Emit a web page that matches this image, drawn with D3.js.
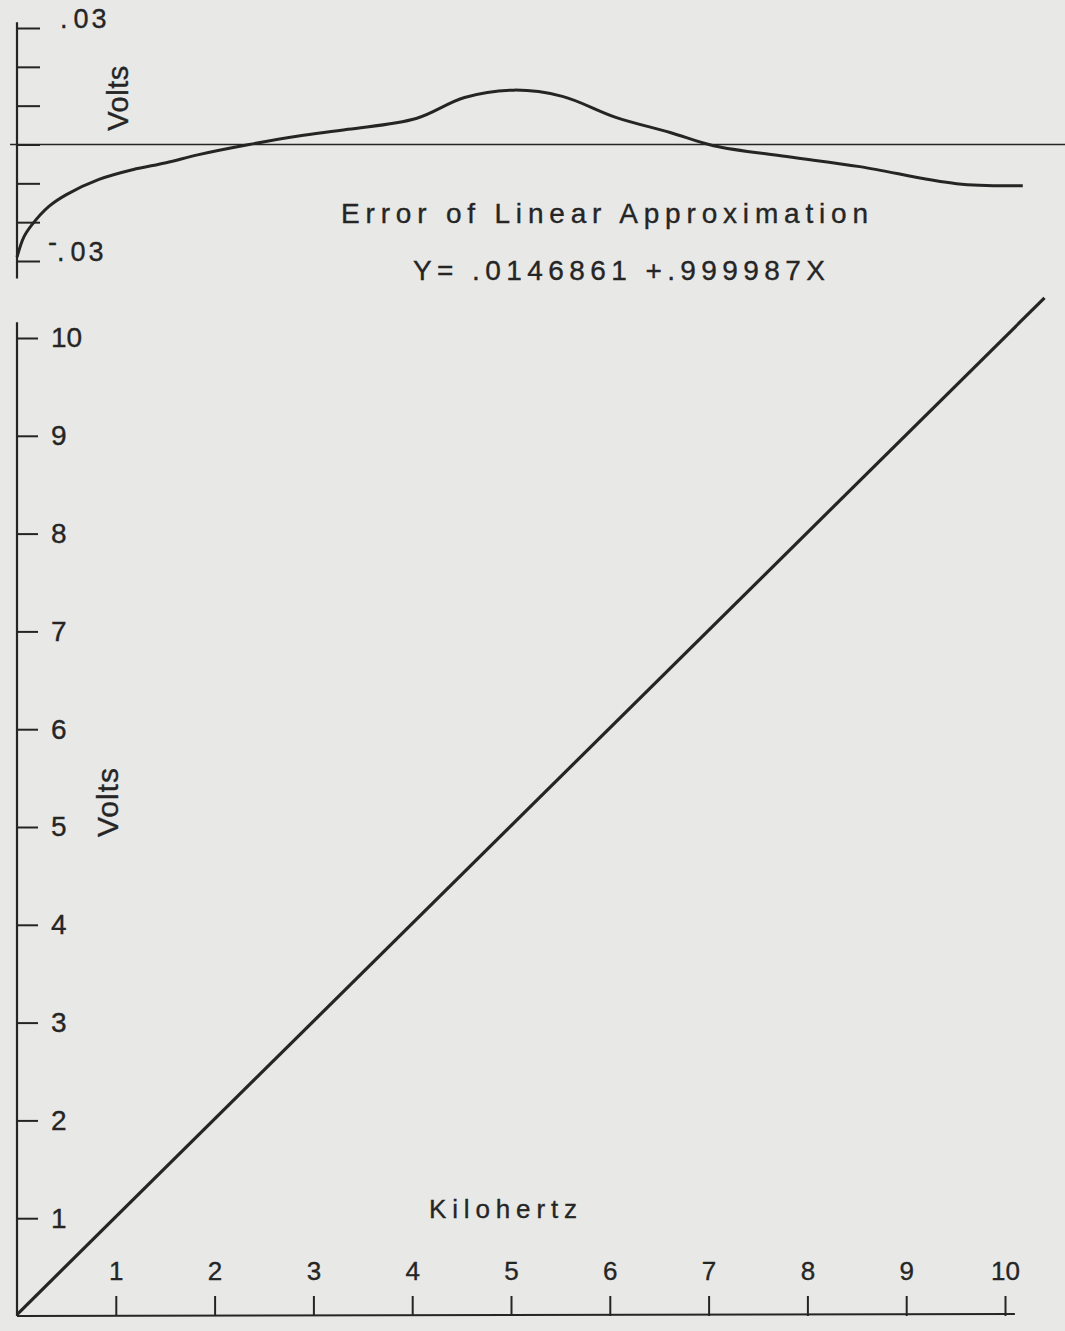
<!DOCTYPE html>
<meta charset="utf-8">
<script src="https://d3js.org/d3.v7.min.js" charset="utf-8"></script>
<style>
  body { margin: 0; background: #e8e8e6; }
  text { font-family: "Liberation Sans", Arial, sans-serif; fill: #252525; stroke: #252525; stroke-width: 0.35px; }
</style>
<body>
<div id="draw"></div>
</body>
<script>

  // main plot: volts out vs kilohertz in
  var lineKhz = [0, 10.4];
  var lineVolts = [0.015, 10.41];

  // error of the linear fit
  var errKhz   = [0, 0.07, 0.15, 0.32, 0.5, 0.83, 1.17, 1.51, 1.84, 2.35, 2.85, 3.35, 4.04, 4.53, 5.03, 5.52, 6.06, 6.61, 7.05, 7.79, 8.53, 9.51, 10.18];
  var errVolts = [-0.029, -0.0238, -0.0207, -0.016, -0.0129, -0.009, -0.0065, -0.0047, -0.0026, 0, 0.0022, 0.0039, 0.0067, 0.0121, 0.014, 0.0124, 0.007, 0.0031, -0.0003, -0.0031, -0.0057, -0.0101, -0.0106];

  var xTicks = [1, 2, 3, 4, 5, 6, 7, 8, 9, 10];
  var yTicks = [1, 2, 3, 4, 5, 6, 7, 8, 9, 10];
  var errTicks = [-0.03, -0.02, -0.01, 0, 0.01, 0.02, 0.03];
  var errLabelVals = [0.03, -0.03];
  var errLabelSign = ["", "-"];

  var width = 1065;
  var height = 1331;
  var ink = "#252525";
  var font = "Liberation Sans, Arial, sans-serif";

  var svg = d3.select("#draw")
    .append("svg")
    .attr("width", width)
    .attr("height", height);

  var x = d3.scaleLinear().domain([0, 10]).range([17, 1005]);
  var y = d3.scaleLinear().domain([0, 10]).range([1316, 338]);
  var yErr = d3.scaleLinear().domain([-0.03, 0.03]).range([261, 28]);

  //---- upper panel: error curve
  var upper = svg.append("g");

  var errAxis = d3.axisRight(yErr)
    .tickValues(errTicks)
    .tickSize(23)
    .tickSizeOuter(0)
    .tickFormat("");
  upper.append("g")
    .attr("transform", "translate(" + x(0) + ",0)")
    .call(errAxis)
    .call(function(g){ g.select(".domain").remove(); })
    .selectAll("line").attr("stroke", ink).attr("stroke-width", 2);

  upper.append("line")   // left axis of the error panel
    .attr("x1", x(0)).attr("x2", x(0))
    .attr("y1", yErr(0.0315)).attr("y2", yErr(-0.0345))
    .attr("stroke", ink).attr("stroke-width", 2.2);

  upper.append("line")   // zero line
    .attr("x1", x(-0.07)).attr("x2", width)
    .attr("y1", yErr(0)).attr("y2", yErr(0))
    .attr("stroke", ink).attr("stroke-width", 1.3);

  // end labels of the error axis, minus sign sits raised like the original
  var labs = upper.selectAll(".errlab")
    .data(errLabelVals)
    .enter().append("text")
    .attr("class", "errlab")
    .attr("x", function(d, i){ return i == 0 ? 60 : 48; })
    .attr("y", function(d){ return yErr(d); })
    .attr("font-size", 27);
  labs.append("tspan")
    .attr("dy", -10)
    .attr("font-size", 27)
    .text(function(d, i){ return errLabelSign[i]; });
  labs.append("tspan")
    .attr("x", function(d, i){ return i == 0 ? 60 : 57; })
    .attr("dy", function(d, i){ return i == 0 ? 0 : 10; })
    .text(".");
  labs.append("tspan")
    .attr("dx", 6)
    .attr("letter-spacing", 3)
    .text("03");

  upper.append("text")
    .attr("transform", "translate(128,98) rotate(-90)")
    .attr("text-anchor", "middle")
    .attr("font-size", 29)
    .attr("letter-spacing", 0.5)
    .text("Volts");

  var errLine = d3.line()
    .x(function(d){ return x(d[0]); })
    .y(function(d){ return yErr(d[1]); })
    .curve(d3.curveCatmullRom.alpha(0.5));

  upper.append("path")
    .datum(d3.zip(errKhz, errVolts))
    .attr("d", errLine)
    .attr("fill", "none")
    .attr("stroke", ink)
    .attr("stroke-width", 3);

  upper.append("text")
    .attr("x", 341).attr("y", 223)
    .attr("font-size", 28)
    .attr("textLength", 527)
    .attr("lengthAdjust", "spacing")
    .text("Error of  Linear Approximation");

  upper.append("text")
    .attr("x", 413).attr("y", 280)
    .attr("font-size", 28)
    .attr("textLength", 412)
    .attr("lengthAdjust", "spacing")
    .text("Y= .0146861 +.999987X");

  //---- main panel
  var main = svg.append("g");

  var yAxis = d3.axisRight(y)
    .tickValues(yTicks)
    .tickSize(21)
    .tickSizeOuter(0)
    .tickPadding(13);
  main.append("g")
    .attr("transform", "translate(" + x(0) + ",0)")
    .call(yAxis)
    .call(function(g){
      g.select(".domain").remove();
      g.selectAll("line").attr("stroke", ink).attr("stroke-width", 2);
      g.selectAll("text").attr("font-size", 28).attr("font-family", font).attr("fill", ink);
    });

  main.append("line")
    .attr("x1", x(0)).attr("x2", x(0))
    .attr("y1", y(10.16)).attr("y2", y(0))
    .attr("stroke", ink).attr("stroke-width", 2.2);

  var xAxis = d3.axisTop(x)
    .tickValues(xTicks)
    .tickSize(20)
    .tickSizeOuter(0)
    .tickPadding(16);
  main.append("g")
    .attr("transform", "translate(0," + y(0) + ")")
    .call(xAxis)
    .call(function(g){
      g.select(".domain").remove();
      g.selectAll("line").attr("stroke", ink).attr("stroke-width", 2);
      g.selectAll("text").attr("font-size", 26).attr("font-family", font).attr("fill", ink);
    });

  main.append("line")
    .attr("x1", x(0)).attr("x2", x(10.1))
    .attr("y1", y(0)).attr("y2", y(0.02))
    .attr("stroke", ink).attr("stroke-width", 2);

  main.append("text")
    .attr("transform", "translate(118,802) rotate(-90)")
    .attr("text-anchor", "middle")
    .attr("font-size", 30)
    .attr("letter-spacing", 1)
    .text("Volts");

  main.append("text")
    .attr("x", 429).attr("y", 1218)
    .attr("font-size", 26)
    .attr("textLength", 148)
    .attr("lengthAdjust", "spacing")
    .text("Kilohertz");

  var mainLine = d3.line()
    .x(function(d){ return x(d[0]); })
    .y(function(d){ return y(d[1]); });

  main.append("path")
    .datum(d3.zip(lineKhz, lineVolts))
    .attr("d", mainLine)
    .attr("fill", "none")
    .attr("stroke", ink)
    .attr("stroke-width", 3.2);

</script>
